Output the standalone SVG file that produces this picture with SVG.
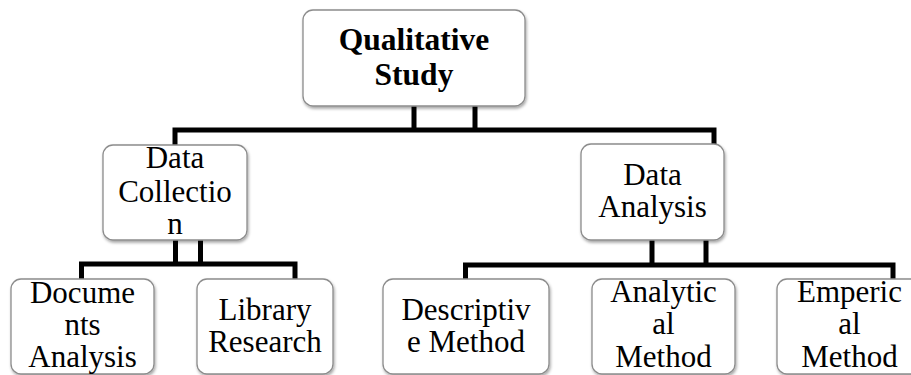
<svg xmlns="http://www.w3.org/2000/svg" width="911" height="375" viewBox="0 0 911 375">
  <defs>
    <filter id="shadow" x="-10%" y="-10%" width="120%" height="130%">
      <feDropShadow dx="1" dy="2" stdDeviation="1.5" flood-color="#000" flood-opacity="0.35"/>
    </filter>
  </defs>
  <style>
    .box { fill: #fff; stroke: #8c8c8c; stroke-width: 1.3; filter: url(#shadow); }
    .wire { fill: none; stroke: #000; stroke-width: 5; stroke-linejoin: miter; stroke-linecap: butt; }
    .lbl { font-family: 'Liberation Serif', 'Times New Roman', serif; font-size: 31px; fill: #000; text-anchor: middle; }
    .title { font-weight: bold; font-size: 31.5px; }
  </style>

  <rect width="911" height="375" fill="#fff"/>

  <!-- elbow connectors, drawn beneath the boxes -->
  <g id="connectors">
    <!-- root to level 1 -->
    <path class="wire" d="M414,106 V130 M475,106 V130 M175,145 V130 H714 V145"/>
    <!-- Data Collection to its children -->
    <path class="wire" d="M175.5,240 V264 M200.5,240 V264 M81.5,279 V264 H295 V279"/>
    <!-- Data Analysis to its children -->
    <path class="wire" d="M652,240 V265 M706,240 V265 M465.5,279 V265 H893 V279"/>
  </g>

  <g id="qualitative-study">
    <rect class="box" x="303" y="10" width="222" height="96" rx="10"/>
    <text class="lbl title" x="414" y="50">Qualitative</text>
    <text class="lbl title" x="414" y="85">Study</text>
  </g>

  <g id="data-collection">
    <rect class="box" x="103" y="145" width="144" height="95" rx="10"/>
    <text class="lbl" x="175" y="168">Data</text>
    <text class="lbl" x="175" y="202">Collectio</text>
    <text class="lbl" x="175" y="234">n</text>
  </g>

  <g id="data-analysis">
    <rect class="box" x="581" y="144" width="143" height="96" rx="10"/>
    <text class="lbl" x="652.5" y="185">Data</text>
    <text class="lbl" x="652.5" y="217">Analysis</text>
  </g>

  <g id="documents-analysis">
    <rect class="box" x="11" y="279" width="143" height="95" rx="10"/>
    <text class="lbl" x="82.5" y="303">Docume</text>
    <text class="lbl" x="82.5" y="335">nts</text>
    <text class="lbl" x="82.5" y="367">Analysis</text>
  </g>

  <g id="library-research">
    <rect class="box" x="197" y="279" width="136" height="95" rx="10"/>
    <text class="lbl" x="265" y="320">Library</text>
    <text class="lbl" x="265" y="352">Research</text>
  </g>

  <g id="descriptive-method">
    <rect class="box" x="383" y="279" width="166" height="95" rx="10"/>
    <text class="lbl" x="466" y="320">Descriptiv</text>
    <text class="lbl" x="466" y="352">e Method</text>
  </g>

  <g id="analytical-method">
    <rect class="box" x="592" y="279" width="143" height="95" rx="10"/>
    <text class="lbl" x="663.5" y="302">Analytic</text>
    <text class="lbl" x="663.5" y="334">al</text>
    <text class="lbl" x="663.5" y="367">Method</text>
  </g>

  <g id="emperical-method">
    <rect class="box" x="777" y="279" width="145" height="95" rx="10"/>
    <text class="lbl" x="849.5" y="302">Emperic</text>
    <text class="lbl" x="849.5" y="334">al</text>
    <text class="lbl" x="849.5" y="367">Method</text>
  </g>
</svg>
